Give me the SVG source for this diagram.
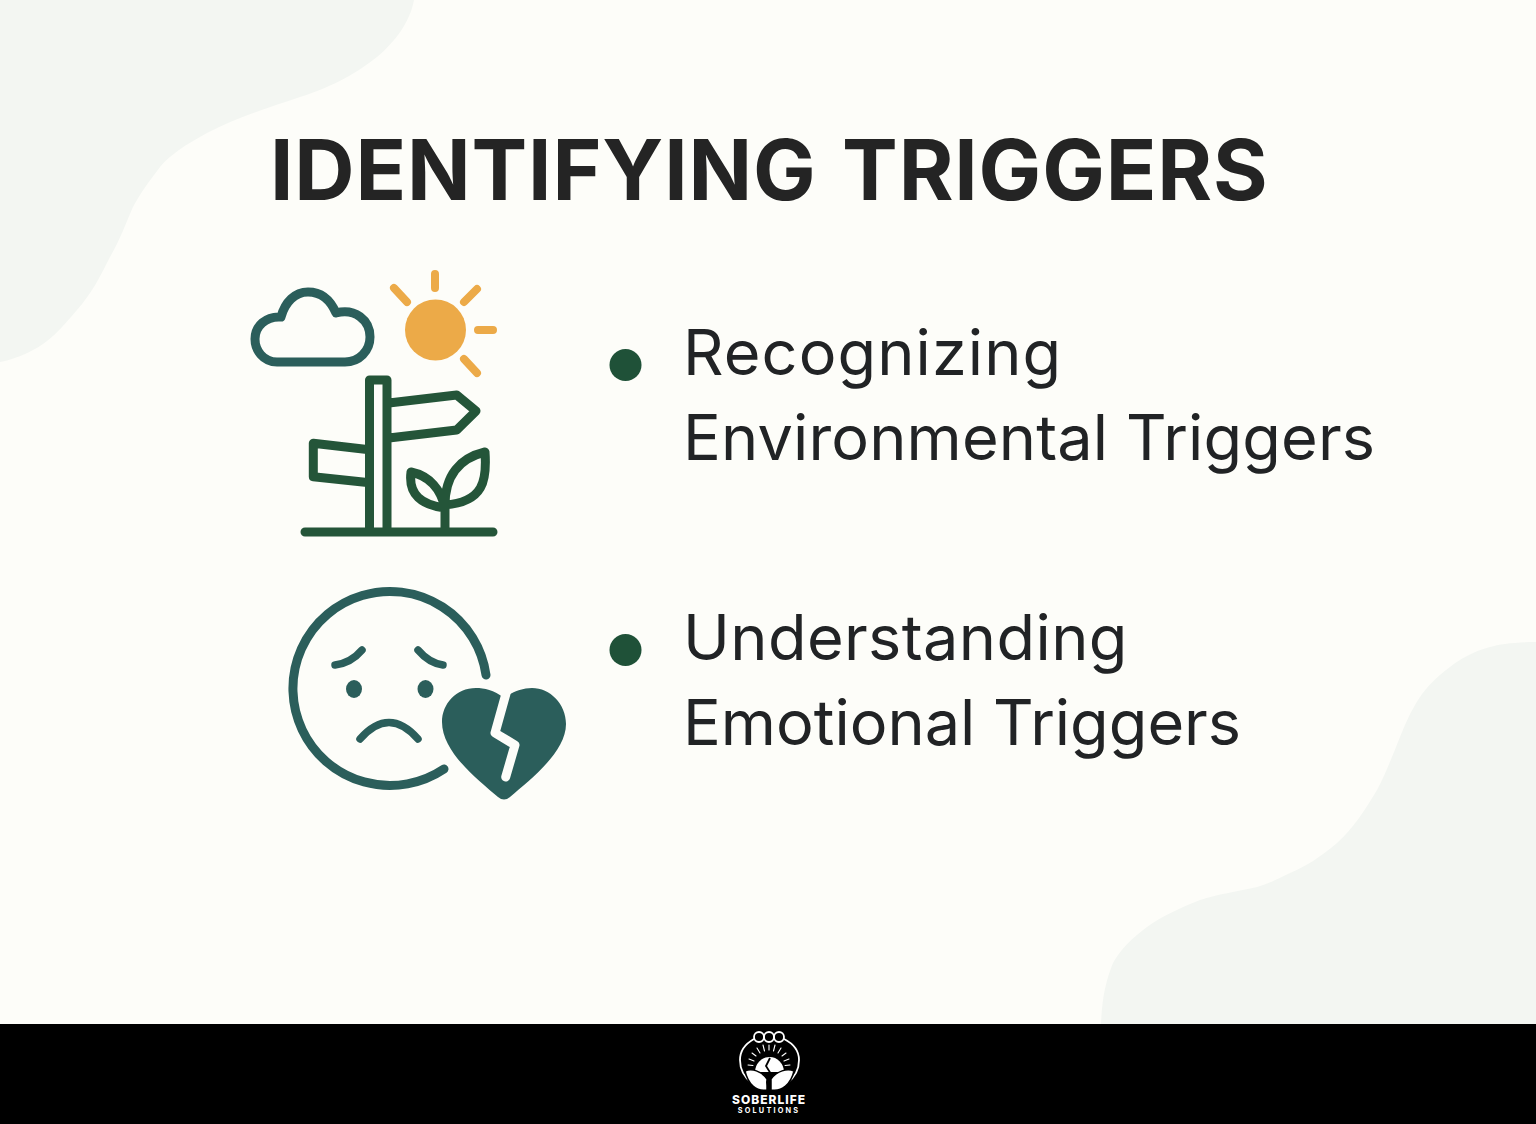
<svg xmlns="http://www.w3.org/2000/svg" width="1536" height="1124" viewBox="0 0 1536 1124">
<style>
.g{fill:none;stroke:#245539;stroke-width:9;stroke-linecap:round;stroke-linejoin:round}
.t{fill:none;stroke:#2b5e5b;stroke-width:9;stroke-linecap:round;stroke-linejoin:round}
.s{fill:none;stroke:#ecaa48;stroke-width:8;stroke-linecap:round}
.b{font-family:Inter,"Liberation Sans",sans-serif;font-size:63px;fill:#212325}
.w{fill:none;stroke:#fff;stroke-linecap:round;stroke-linejoin:round}
.h{fill:#fff;stroke:#000;stroke-width:1.500}
</style>
<rect width="1536" height="1124" fill="#fdfdf9"/>
<g id="background">
<path d="M0,0H414C410,22 395,42 377,57C358,72 335,86 300,97C267,108 235,118 207,133C185,145 170,155 160,167C148,183 141,192 133,207C125,225 120,240 110,257C100,277 92,293 77,310C62,328 48,343 33,350C22,356 10,360 0,362Z" fill="#f3f6f2"/>
<path d="M1536,642C1515,642 1500,644 1490,647C1472,652 1460,659 1450,667C1435,678 1427,687 1420,697C1410,712 1405,725 1400,737C1392,757 1385,775 1377,790C1365,810 1352,830 1337,843C1322,856 1305,867 1290,873C1278,879 1268,884 1257,887C1235,892 1218,894 1200,900C1180,908 1162,916 1147,927C1132,938 1120,950 1113,963C1105,983 1102,1000 1101,1024H1536Z" fill="#f3f6f2"/>
</g>
<g id="title"><text x="270" y="200" font-family="Inter,'Liberation Sans',sans-serif" font-size="83.500" font-weight="700" letter-spacing="0.850" word-spacing="5" fill="#242424">IDENTIFYING TRIGGERS</text></g>
<g id="icon-environment">
<path class="t" d="M277,362C263,362 255,350 255,339C255,326 266,316 281,317C285,302 295,292 308,292C320,292 330,299 336,313C355,308 370,320 370,337C370,351 359,362 345,362Z"/>
<circle cx="435.500" cy="330" r="30.500" fill="#ecaa48"/>
<path class="s" d="M435,274V288M478,330H493M477,289L464,302M394,288L407,302M464,359L477,373"/>
<path class="g" d="M369.500,532V380H387V532M391,402.700L456.700,395L476,411L456.700,430L391,437.700M365,449.300L313.300,443.300V476.700L365,482.300M305,532H493M445,530V505M445,505C445,475 460,458 485,452C487,480 484,502 445,505ZM445,508C441,490 430,476 411,472C408,495 422,505 445,508Z"/>
</g>
<g id="icon-emotion">
<path class="t" d="M486,675A97,97 0 1 0 444,769"/>
<path class="t" style="stroke-width:7.500" d="M335,665Q351,663 362,650M418,650Q429,663 443,665M360,739Q389,706 418,739"/>
<ellipse cx="354" cy="689" rx="8" ry="9" fill="#2b5e5b"/>
<ellipse cx="425.500" cy="689" rx="8" ry="9" fill="#2b5e5b"/>
<path d="M504,698C494,690 484,688 476,688C456,688 442,704 442,722C442,752 478,780 498,797Q504,802 510,797C530,780 566,752 566,724C566,704 550,688 532,688C522,688 512,692 504,698Z" fill="#2b5e5b"/>
<path d="M507,690L495,733L515,745L505.700,777" fill="none" stroke="#fdfdf9" stroke-width="9" stroke-linecap="round" stroke-linejoin="round"/>
</g>
<g id="item-environmental">
<circle cx="625.500" cy="365" r="16" fill="#1f5138"/>
<text class="b" x="683" y="375" letter-spacing="1.100">Recognizing</text>
<text class="b" x="683" y="460" letter-spacing="0.150">Environmental Triggers</text>
</g>
<g id="item-emotional">
<circle cx="625.500" cy="650" r="16" fill="#1f5138"/>
<text class="b" x="683" y="660" letter-spacing="0.400">Understanding</text>
<text class="b" x="683" y="745">Emotional Triggers</text>
</g>
<g id="footer">
<rect y="1024" width="1536" height="100" fill="#000"/>
<g id="logo">
<path class="w" stroke-width="1.800" d="M754,1039C745,1044 740,1052 740,1060C740,1070 745,1078 752,1083M784,1039C794,1044 799,1052 799,1060C799,1070 794,1078 787,1083"/>
<g class="w" stroke-width="1.800"><circle cx="759" cy="1037" r="5"/><circle cx="769" cy="1037" r="5"/><circle cx="779" cy="1037" r="5"/></g>
<path class="w" stroke-width="1.100" d="M769,1045V1050M763,1045L764.500,1051M775,1045L773.500,1051M757,1048L760,1053M781,1048L778,1053M752,1053L756,1056M786,1053L782,1056M749,1059L754,1061M789,1059L784,1061M748,1065L753,1065.500M790,1065L785,1065.500"/>
<path fill="#fff" d="M755,1072A14.500,15 0 0 1 784,1072Z"/>
<path class="h" d="M745,1071C752,1068 761,1071 767,1079L767,1090C756,1092 748,1084 745,1071ZM794,1071C787,1068 777,1071 771,1079L771,1090C782,1092 791,1084 794,1071Z"/>
<path fill="none" stroke="#000" stroke-width="1.800" d="M770,1058L766,1066L771,1074L767,1082L769,1090"/>
<text x="769" y="1103.500" text-anchor="middle" font-family="Inter,'Liberation Sans',sans-serif" font-size="12" font-weight="800" letter-spacing="1" fill="#fff">SOBERLIFE</text>
<text x="769" y="1113" text-anchor="middle" font-family="Inter,'Liberation Sans',sans-serif" font-size="7.300" font-weight="700" letter-spacing="2.200" fill="#fff">SOLUTIONS</text>
</g>
</g>
</svg>
